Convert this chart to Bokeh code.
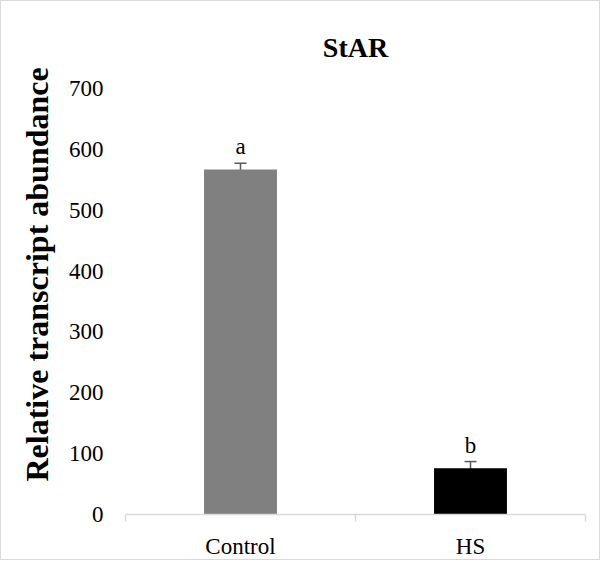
from bokeh.plotting import figure
from bokeh.models import ColumnDataSource, Range1d, FixedTicker, Whisker, TeeHead, Title, LabelSet
from bokeh.embed import file_html
from bokeh.resources import INLINE

categories = ["Control", "HS"]
values = [567, 76]
errors = [10, 11]
letters = ["a", "b"]
colors = ["#808080", "#000000"]
y_ticks = [0, 100, 200, 300, 400, 500, 600, 700]

xpos = [i + 0.5 for i in range(len(categories))]
src = ColumnDataSource(dict(
    x=xpos, top=values, upper=[v + e for v, e in zip(values, errors)],
    lower=[v - e for v, e in zip(values, errors)], letter=letters, color=colors,
))

FONT = "Liberation Serif"

p = figure(width=600, height=560, output_backend="svg", toolbar_location=None,
           x_range=Range1d(0, len(categories)), y_range=Range1d(0, 700),
           min_border_left=124, min_border_right=16, min_border_top=87,
           min_border_bottom=41, title="StAR")
p.styles = {"border": "1px solid #d9d9d9"}
p.background_fill_color = "white"
p.border_fill_color = "white"
p.outline_line_color = None
p.grid.visible = False

p.title.align = "center"
p.title.text_font = FONT
p.title.text_font_size = "28px"
p.title.text_font_style = "bold"
p.title.text_color = "black"
p.title.standoff = 51

p.vbar(x="x", top="top", bottom=0, width=0.317, fill_color="color",
       line_color=None, source=src)

w = Whisker(base="x", upper="upper", lower="lower", source=src,
            line_color="#595959", line_width=1.5,
            upper_head=TeeHead(size=12, line_color="#595959", line_width=1.5),
            lower_head=TeeHead(size=12, line_color="#595959", line_width=1.5))
p.add_layout(w)

p.add_layout(LabelSet(x="x", y="upper", text="letter", source=src,
                      text_align="center", text_baseline="alphabetic", y_offset=9,
                      text_font=FONT, text_font_size="23px", text_color="black"))

xa = p.xaxis[0]
xa.ticker = FixedTicker(ticks=xpos, minor_ticks=list(range(len(categories) + 1)))
xa.major_label_overrides = {x: c for x, c in zip(xpos, categories)}
xa.axis_line_color = "#d9d9d9"
xa.axis_line_width = 1.5
xa.major_tick_line_color = None
xa.minor_tick_line_color = "#d9d9d9"
xa.minor_tick_line_width = 1.5
xa.minor_tick_in = 0
xa.minor_tick_out = 7
xa.major_label_text_font = FONT
xa.major_label_text_font_size = "23px"
xa.major_label_text_color = "black"
xa.major_label_standoff = 12

ya = p.yaxis[0]
ya.ticker = FixedTicker(ticks=y_ticks, minor_ticks=[])
ya.axis_line_color = None
ya.major_tick_line_color = None
ya.minor_tick_line_color = None
ya.major_label_text_font = FONT
ya.major_label_text_font_size = "23px"
ya.major_label_text_color = "black"
ya.major_label_standoff = 16

ylab = Title(text="Relative transcript abundance", align="left", offset=33,
             text_font=FONT, text_font_size="32px", text_font_style="bold",
             text_color="black", standoff=22)
p.add_layout(ylab, "left")

open("out.html", "w").write(file_html(p, INLINE))
